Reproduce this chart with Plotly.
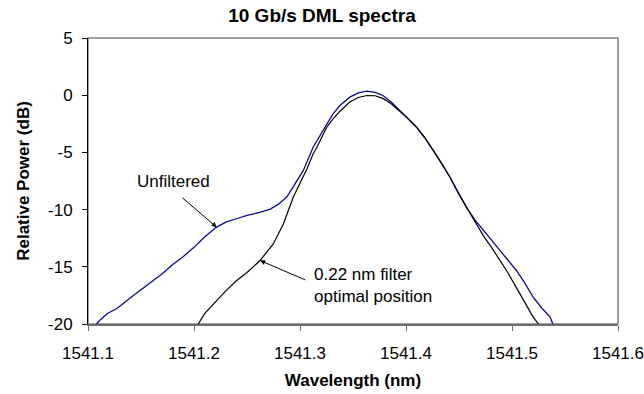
import plotly.graph_objects as go

# ---- data ----
blue_wl = [1541.108, 1541.112, 1541.118, 1541.128, 1541.140, 1541.150, 1541.160, 1541.170,
           1541.180, 1541.190, 1541.200, 1541.210, 1541.221, 1541.230, 1541.240, 1541.250,
           1541.262, 1541.272, 1541.280, 1541.2875, 1541.295, 1541.303, 1541.3126, 1541.3157,
           1541.325, 1541.331, 1541.3377, 1541.347, 1541.355, 1541.363, 1541.371, 1541.3786,
           1541.386, 1541.394, 1541.402, 1541.410, 1541.418, 1541.4258, 1541.434, 1541.4415,
           1541.449, 1541.457, 1541.465, 1541.473, 1541.481, 1541.4887, 1541.496, 1541.504,
           1541.512, 1541.520, 1541.528, 1541.536, 1541.5385]
blue_pw = [-20.0, -19.6, -19.1, -18.6, -17.7, -17.0, -16.3, -15.6,
           -14.8, -14.1, -13.3, -12.4, -11.55, -11.1, -10.8, -10.5,
           -10.25, -9.95, -9.5, -8.9, -7.8, -6.6, -4.5, -4.0,
           -2.5, -1.65, -0.9, -0.17, 0.2, 0.35, 0.25, -0.05,
           -0.6, -1.36, -2.05, -2.8, -3.75, -4.83, -6.0, -7.17,
           -8.5, -9.8, -10.9, -11.8, -12.7, -13.6, -14.45, -15.3,
           -16.4, -17.66, -18.6, -19.4, -20.0]

black_wl = [1541.204, 1541.210, 1541.2214, 1541.230, 1541.2403, 1541.250, 1541.2623, 1541.2748,
            1541.2843, 1541.2937, 1541.300, 1541.3063, 1541.3126, 1541.3157, 1541.3252, 1541.331,
            1541.3377, 1541.347, 1541.355, 1541.363, 1541.371, 1541.3786, 1541.386, 1541.394,
            1541.402, 1541.410, 1541.418, 1541.4258, 1541.434, 1541.4415, 1541.449, 1541.457,
            1541.465, 1541.473, 1541.481, 1541.4887, 1541.496, 1541.504, 1541.512, 1541.520,
            1541.525]
black_pw = [-20.0, -19.1, -17.95, -17.1, -16.2, -15.5, -14.45, -13.0,
            -11.25, -8.9, -7.7, -6.5, -5.1, -4.6, -2.8, -2.1,
            -1.4, -0.6, -0.2, -0.03, -0.05, -0.3, -0.75, -1.36,
            -2.05, -2.8, -3.75, -4.83, -6.0, -7.17, -8.5, -9.8,
            -11.1, -12.3, -13.35, -14.4, -15.5, -16.8, -18.1, -19.4,
            -20.0]

x_ticks = [1541.1, 1541.2, 1541.3, 1541.4, 1541.5, 1541.6]
x_tick_labels = ["1541.1", "1541.2", "1541.3", "1541.4", "1541.5", "1541.6"]
y_ticks = [-20, -15, -10, -5, 0, 5]
y_tick_labels = ["-20", "-15", "-10", "-5", "0", "5"]

FONT = "Arial, Liberation Sans, sans-serif"

fig = go.Figure()
fig.add_trace(go.Scatter(x=blue_wl, y=blue_pw, mode="lines",
                         line=dict(color="#0a0a8c", width=1.3), name="Unfiltered"))
fig.add_trace(go.Scatter(x=black_wl, y=black_pw, mode="lines",
                         line=dict(color="#000000", width=1.2), name="0.22 nm filter"))

# plot-area frame (gray), drawn below the black left axis line
fig.add_shape(type="rect", xref="paper", yref="paper", x0=0, y0=0, x1=1, y1=1,
              line=dict(color="#808080", width=1.5), layer="below")

# annotations
fig.add_annotation(x=1541.2214, y=-11.54, ax=1541.1877, ay=-8.86, axref="x", ayref="y",
                   text="", showarrow=True, arrowhead=2, arrowsize=1, arrowwidth=1,
                   arrowcolor="black")
fig.add_annotation(x=1541.1806, y=-7.54, text="Unfiltered", showarrow=False,
                   font=dict(family=FONT, size=17, color="black"))
fig.add_annotation(x=1541.2623, y=-14.45, ax=1541.3063, ay=-16.2, axref="x", ayref="y",
                   text="", showarrow=True, arrowhead=2, arrowsize=1, arrowwidth=1,
                   arrowcolor="black")
fig.add_annotation(x=1541.311, y=-16.63, text="0.22 nm filter<br>optimal position",
                   showarrow=False, xanchor="left", align="left",
                   font=dict(family=FONT, size=17, color="black"))

fig.update_layout(
    width=644, height=394,
    margin=dict(l=88, r=26, t=38, b=70, autoexpand=False),
    paper_bgcolor="white", plot_bgcolor="white",
    showlegend=False,
    font=dict(family=FONT, size=17, color="black"),
    title=dict(text="<b>10 Gb/s DML spectra</b>", x=0.5, xanchor="center",
               y=1 - 15 / 394, yanchor="middle",
               font=dict(family=FONT, size=19, color="black")),
)
fig.update_xaxes(
    range=[1541.1, 1541.6], tickvals=x_ticks, ticktext=x_tick_labels,
    automargin=False,
    showgrid=False, zeroline=False,
    showline=True, linecolor="#6e6e6e", linewidth=2,
    ticks="outside", ticklen=5, tickcolor="#6e6e6e", tickwidth=1,
    ticklabelstandoff=8,
    tickfont=dict(family=FONT, size=17, color="black"),
    title=dict(text="<b>Wavelength (nm)</b>", standoff=12,
               font=dict(family=FONT, size=17, color="black")),
)
fig.update_yaxes(
    range=[-20, 5], tickvals=y_ticks, ticktext=y_tick_labels,
    automargin=False,
    showgrid=False, zeroline=False,
    showline=True, linecolor="black", linewidth=1,
    ticks="outside", ticklen=5, tickcolor="black", tickwidth=1,
    ticklabelstandoff=6,
    tickfont=dict(family=FONT, size=17, color="black"),
    title=dict(text="<b>Relative Power (dB)</b>", standoff=14,
               font=dict(family=FONT, size=17, color="black")),
)

fig.write_html("out.html")
